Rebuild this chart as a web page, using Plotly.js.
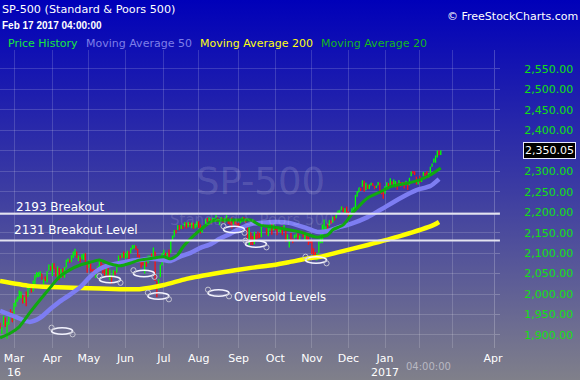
<!DOCTYPE html>
<html>
<head>
<meta charset="utf-8">
<script src="https://cdn.plot.ly/plotly-3.0.1.min.js"></script>
<style>
html, body { margin:0; padding:0; }
#chart { width:580px; height:380px; background: linear-gradient(to bottom, #0000b9 0%, #3c3ca2 50%, #80808a 100%); }
</style>
</head>
<body>
<div id="chart"></div>
<script>
// Daily S&P 500 bars, Feb 17 2016 .. Feb 17 2017 (trading-day index: Mar 1 2016 = 0)
const firstDay = -9;
const opens = [
 1898,1927,1916,1925,1942,1917,1931,1955,1947,
 1937,1975,1985,1994,1997,1997,1981,1991,1994,2019,2019,2016,2027,2041,2048,2048,2049,2032,2038,2035,2058,2064,
 2057,2073,2063,2045,2063,2046,2050,2043,2065,2082,2083,2079,2097,2100,2102,2091,2089,2090,2093,2091,2071,
 2068,2077,2060,2053,2047,2058,2062,2083,2068,2062,2047,2066,2045,2044,2042,2052,2053,2079,2091,2091,2100,
 2094,2097,2104,2101,2110,2113,2117,2110,2092,2077,2077,2069,2078,2076,2085,2090,2092,2103,2031,2013,2042,2073,
 2100,2096,2083,2099,2101,2132,2140,2156,2158,2166,2163,2165,2166,2173,2166,2174,2168,2169,2166,2168,
 2174,2169,2156,2163,2168,2184,2181,2183,2177,2183,2187,2186,2177,2181,2185,2182,2186,2185,2174,2176,2171,2180,2173,
 2172,2177,2181,2187,2183,2170,2120,2150,2127,2124,2146,2144,2146,2144,2170,2173,2159,2146,2161,2168,2156,
 2165,2164,2153,2158,2164,2160,2161,2138,2130,2139,2132,2138,2140,2143,2139,2149,2152,2137,2143,2133,2129,
 2128,2110,2100,2083,2101,2132,2132,2167,2162,2168,2169,2179,2178,2187,2186,2201,2199,2206,2211,2201,2205,
 2200,2191,2201,2208,2211,2241,2249,2258,2263,2269,2254,2266,2260,2266,2270,2263,2261,2266,2270,2250,2252,
 2251,2261,2270,2271,2274,2268,2268,2271,2273,2272,2270,2272,2270,2268,2268,2290,2299,2299,2286,2275,
 2286,2277,2289,2295,2296,2291,2296,2312,2322,2327,2335,2349,2343
];
const highs = [
 1930,1930,1919,1946,1942,1932,1952,1963,1957,
 1978,1987,1993,2009,2006,1998,1992,2006,2022,2025,2019,2033,2048,2053,2053,2056,2049,2036,2043,2056,2072,2068,
 2075,2075,2063,2067,2063,2061,2063,2066,2084,2087,2083,2095,2104,2111,2104,2094,2089,2097,2099,2100,2074,
 2083,2077,2060,2061,2058,2068,2085,2083,2073,2066,2071,2070,2060,2044,2059,2056,2079,2094,2094,2099,2104,
 2100,2105,2104,2113,2120,2120,2117,2110,2096,2081,2085,2079,2079,2094,2094,2099,2113,2103,2031,2036,2071,2099,
 2108,2101,2100,2109,2132,2143,2156,2157,2169,2169,2169,2165,2176,2175,2175,2174,2174,2174,2172,2178,
 2178,2170,2165,2169,2183,2186,2188,2183,2186,2186,2194,2186,2183,2188,2185,2185,2193,2186,2179,2187,2183,2183,2173,
 2174,2184,2187,2188,2185,2170,2163,2150,2142,2152,2146,2153,2150,2165,2179,2173,2159,2161,2173,2172,2175,
 2165,2166,2163,2162,2165,2169,2161,2146,2134,2149,2135,2145,2148,2148,2143,2155,2152,2146,2147,2140,2133,
 2131,2112,2103,2100,2133,2146,2170,2182,2165,2172,2180,2179,2189,2190,2198,2204,2205,2214,2211,2210,2214,
 2202,2197,2210,2213,2242,2252,2260,2259,2278,2277,2272,2268,2268,2272,2271,2264,2265,2274,2272,2254,2253,
 2264,2273,2270,2283,2275,2280,2276,2272,2279,2273,2273,2274,2277,2272,2284,2299,2301,2299,2286,2279,
 2289,2284,2298,2296,2300,2296,2311,2319,2331,2338,2351,2351,2351
];
const lows = [
 1898,1915,1903,1925,1920,1891,1925,1946,1932,
 1937,1969,1981,1987,1990,1977,1979,1970,1994,2012,2004,2006,2023,2041,2042,2043,2035,2023,2032,2028,2058,2057,
 2044,2062,2043,2042,2034,2039,2041,2040,2065,2079,2076,2079,2088,2094,2089,2081,2077,2085,2083,2072,2052,
 2064,2055,2045,2044,2039,2053,2062,2064,2050,2045,2047,2041,2034,2025,2042,2047,2053,2079,2087,2089,2088,
 2086,2089,2085,2100,2110,2112,2107,2090,2078,2064,2070,2050,2067,2076,2083,2084,2092,2032,1992,2013,2042,2070,
 2097,2082,2075,2090,2101,2132,2140,2148,2158,2156,2159,2159,2166,2160,2163,2165,2161,2159,2160,2163,
 2162,2148,2150,2159,2168,2177,2178,2172,2177,2179,2187,2177,2168,2181,2175,2175,2186,2171,2169,2160,2171,2170,2162,
 2157,2173,2176,2180,2175,2127,2119,2120,2120,2122,2132,2135,2137,2139,2170,2163,2145,2141,2155,2145,2156,
 2156,2144,2153,2150,2144,2160,2128,2131,2114,2132,2124,2136,2138,2132,2130,2148,2139,2131,2132,2120,2125,
 2098,2094,2085,2083,2101,2124,2124,2151,2152,2156,2166,2172,2174,2180,2186,2195,2195,2206,2200,2198,2198,
 2187,2188,2200,2201,2208,2238,2249,2252,2263,2250,2254,2257,2257,2266,2264,2256,2259,2266,2249,2244,2233,
 2245,2261,2261,2265,2268,2266,2261,2255,2271,2262,2265,2258,2266,2254,2266,2288,2294,2291,2268,2268,
 2272,2274,2289,2288,2292,2285,2296,2311,2322,2321,2334,2339,2340
];
const closes = [
 1927,1918,1918,1946,1921,1930,1952,1948,1932,
 1978,1987,1993,2000,2002,1979,1989,1990,2022,2020,2016,2027,2041,2050,2052,2050,2037,2036,2037,2055,2064,2060,
 2073,2066,2045,2067,2042,2048,2042,2062,2082,2083,2081,2094,2101,2102,2092,2092,2088,2092,2095,2076,2065,
 2081,2063,2051,2051,2057,2059,2084,2065,2064,2047,2067,2047,2048,2040,2052,2048,2076,2091,2090,2099,2097,
 2099,2105,2099,2109,2112,2119,2116,2096,2079,2075,2072,2078,2071,2083,2089,2086,2113,2037,2001,2036,2071,2099,
 2103,2089,2100,2098,2130,2137,2152,2152,2164,2162,2167,2164,2173,2165,2175,2169,2169,2167,2170,2174,
 2171,2157,2164,2164,2183,2181,2182,2176,2186,2184,2190,2178,2182,2187,2184,2183,2187,2175,2173,2169,2180,2176,2171,
 2171,2180,2187,2186,2181,2128,2159,2127,2126,2147,2139,2139,2140,2163,2177,2165,2146,2160,2171,2151,2168,
 2161,2150,2160,2161,2154,2164,2137,2139,2133,2133,2127,2140,2144,2141,2141,2151,2143,2139,2133,2126,2126,
 2112,2098,2089,2085,2132,2140,2163,2168,2165,2164,2180,2177,2187,2182,2198,2203,2205,2213,2202,2205,2199,
 2191,2192,2205,2212,2241,2246,2260,2257,2272,2253,2262,2258,2263,2271,2265,2261,2264,2269,2250,2249,2239,
 2258,2271,2269,2277,2269,2269,2275,2270,2275,2268,2272,2264,2271,2265,2280,2298,2297,2295,2281,2279,
 2280,2281,2297,2293,2293,2295,2308,2316,2328,2338,2349,2347,2350.05
];

// Moving averages (trading-day index, value)
const ma20Days = [-8,-2,3,9,15,21,26,32,38,44,49,55,61,67,72,80,86,90,94,97,103,109,114,122,130,136,141,153,164,174,180,183,189,195,203,210,216,226,233,239,245];
const ma20 = [1893,1905,1920,1954,1986,2017,2042,2059,2071,2078,2083,2074,2069,2076,2083,2088,2091,2086,2096,2115,2142,2164,2179,2181,2181,2181,2169,2161,2152,2139,2144,2157,2169,2201,2235,2249,2262,2271,2279,2291,2308];
const ma50Days = [-8,1,9,15,21,26,32,38,44,49,55,61,67,72,78,86,90,95,101,107,113,118,124,130,136,149,158,168,174,180,187,193,203,210,222,231,239,244];
const ma50 = [1959,1944,1932,1942,1964,1981,1998,2017,2044,2061,2071,2076,2081,2083,2086,2083,2081,2091,2100,2113,2122,2135,2147,2161,2171,2176,2174,2161,2152,2154,2164,2171,2188,2205,2235,2254,2264,2281];
const ma200Days = [-8,9,21,38,61,72,86,99,118,136,149,158,170,176,187,203,222,241,244];
const ma200 = [2032,2020,2017,2015,2012,2012,2022,2037,2052,2064,2071,2078,2088,2091,2103,2120,2142,2169,2176];

// Axis ticks: first trading day of each month
const monthTickDays = [0,22,43,64,86,106,129,150,171,192,213,233,252,275];
const monthTickText = ['Mar<br>16','Apr','May','Jun','Jul','Aug','Sep','Oct','Nov','Dec','Jan<br>2017','','','Apr'];

// Drawn annotations
const breakoutLevels = [2196, 2131];
const oversoldMarks = [[27.6,1909.7],[55.1,2035.6],[74.6,2050.2],[82.9,1995.3],[126.3,2157.8],[138.9,2122.3],[173.4,2083.2]];
const oversoldKey = [117.4, 2002.6];

const xRange = [-8.04, 275.55];
const yRange = [1868.2, 2596.4];
const PW = 494, PT = 50, PB = 348;
const px = x => x / PW;
const py = y => (PB - y) / (PB - PT);
const dayPerPx = (xRange[1] - xRange[0]) / PW;
const ptsPerPx = (yRange[1] - yRange[0]) / (PB - PT);

const days = closes.map((c, i) => firstDay + i);

const traces = [
  {type:'ohlc', x:days, open:opens, high:highs, low:lows, close:closes,
   increasing:{line:{color:'#00ff00', width:1.3}}, decreasing:{line:{color:'#ff1010', width:1.3}},
   tickwidth:0.4, hoverinfo:'skip', showlegend:false},
  {type:'scatter', mode:'lines', x:ma200Days, y:ma200, line:{color:'#ffff00', width:4.5, shape:'spline', smoothing:0.6}, hoverinfo:'skip'},
  {type:'scatter', mode:'lines', x:ma50Days, y:ma50, line:{color:'#7d7df2', width:4.5, shape:'spline', smoothing:0.6}, hoverinfo:'skip'},
  {type:'scatter', mode:'lines', x:ma20Days, y:ma20, line:{color:'#10a810', width:3, shape:'spline', smoothing:0.6}, hoverinfo:'skip'}
];

const shapes = [];
breakoutLevels.forEach(v => shapes.push({type:'line', xref:'paper', x0:0, x1:1.012, yref:'y', y0:v, y1:v,
  line:{color:'#e2e2f0', width:2}, layer:'above'}));
function addOval(d, v) {
  const rx = 10.5 * dayPerPx, ry = 3.3 * ptsPerPx, hr = 2.6;
  shapes.push({type:'circle', xref:'x', yref:'y', x0:d-rx, x1:d+rx, y0:v-ry, y1:v+ry,
    line:{color:'#f4f4ff', width:1.6}, fillcolor:'rgba(0,0,0,0)', layer:'above'});
  [[d-rx, v+ry],[d+rx, v-ry]].forEach(([hx, hy]) => shapes.push({type:'circle', xref:'x', yref:'y',
    x0:hx-hr*dayPerPx, x1:hx+hr*dayPerPx, y0:hy-hr*ptsPerPx, y1:hy+hr*ptsPerPx,
    line:{color:'#c4c4d0', width:1}, fillcolor:'rgba(0,0,0,0)', layer:'above'}));
}
oversoldMarks.forEach(([d, v]) => addOval(d, v));
addOval(oversoldKey[0], oversoldKey[1]);

const F = 'DejaVu Sans';
const ann = (text, x, y, opts) => Object.assign({text, x, y, xref:'paper', yref:'paper', showarrow:false,
  xanchor:'left', yanchor:'middle', font:{family:F, size:11, color:'#ffffff'}}, opts || {});
const last = closes[closes.length - 1];
const lastText = last.toLocaleString('en-US', {minimumFractionDigits:2, maximumFractionDigits:2});

const annotations = [
  ann('SP-500', px(260), py(181), {xanchor:'center', font:{family:F, size:37, color:'rgba(255,255,255,0.14)'}}),
  ann('Standard &amp; Poors 500', px(252), py(220), {xanchor:'center', font:{family:F, size:15, color:'rgba(255,255,255,0.13)'}}),
  ann('SP-500 (Standard &amp; Poors 500)', px(0), py(9.5), {font:{family:F, size:11.2, color:'#ffffff'}}),
  ann('Feb 17 2017 04:00:00', px(0), py(25), {font:{family:'Liberation Sans', size:10, color:'#ffffff', weight:'bold'}}),
  ann('© FreeStockCharts.com', px(580), py(16), {xanchor:'right', font:{family:F, size:11, color:'#ffffff'}}),
  ann('Price History', px(6), py(43.5), {font:{family:F, size:11, color:'#18e83c'}}),
  ann('Moving Average 50', px(84), py(43.5), {font:{family:F, size:11, color:'#7e7ee8'}}),
  ann('Moving Average 200', px(198), py(43.5), {font:{family:F, size:11, color:'#ffff10'}}),
  ann('Moving Average 20', px(319), py(43.5), {font:{family:F, size:11, color:'#14b820'}}),
  ann('2193 Breakout', px(14), py(207), {font:{family:F, size:12, color:'#ffffff'}}),
  ann('2131 Breakout Level', px(12), py(230), {font:{family:F, size:12, color:'#ffffff'}}),
  ann('Oversold Levels', px(232), py(296.5), {font:{family:F, size:11.6, color:'#ffffff'}}),
  ann('04:00:00', px(428), py(366), {xanchor:'center', font:{family:F, size:10, color:'#b8b8c2'}}),
  {text:lastText, xref:'paper', yref:'y', x:px(523), y:last, xanchor:'left', yanchor:'middle', showarrow:false,
   font:{family:F, size:11, color:'#ffffff'}, bgcolor:'#000000', bordercolor:'#e8e8ff', borderwidth:1, borderpad:1}
];

const layout = {
  width:580, height:380,
  margin:{l:0, r:86, t:50, b:32, pad:0},
  paper_bgcolor:'rgba(0,0,0,0)', plot_bgcolor:'rgba(0,0,0,0)',
  showlegend:false,
  font:{family:F, color:'#ffffff', size:11},
  xaxis:{type:'linear', range:xRange, tickmode:'array', tickvals:monthTickDays, ticktext:monthTickText,
    showgrid:true, gridcolor:'rgba(255,255,255,0.16)', gridwidth:1, zeroline:false, showline:false, ticks:'',
    ticklabelstandoff:2,
    tickfont:{family:F, size:11, color:'#ffffff'}, rangeslider:{visible:false}, fixedrange:true},
  yaxis:{side:'right', range:yRange, tick0:1900, dtick:50, tickformat:',.2f',
    showgrid:true, gridcolor:'rgba(255,255,255,0.16)', zeroline:false, showline:true, linecolor:'rgba(255,255,255,0.22)',
    ticks:'outside', ticklen:5, tickcolor:'rgba(255,255,255,0.22)', ticklabelstandoff:22,
    tickfont:{family:F, size:11, color:'#12e012'}, fixedrange:true},
  shapes, annotations
};

Plotly.newPlot('chart', traces, layout, {staticPlot:true, displayModeBar:false});
</script>
</body>
</html>
